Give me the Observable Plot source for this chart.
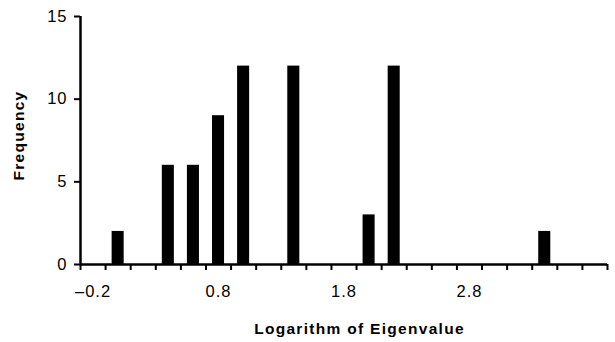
<!DOCTYPE html>
<html>
<head>
<meta charset="utf-8">
<script src="https://cdn.jsdelivr.net/npm/d3@7"></script>
<script src="https://cdn.jsdelivr.net/npm/@observablehq/plot@0.6"></script>
<style>
  html, body { margin: 0; padding: 0; background: #fff; }
  #chart svg { display: block; }
</style>
</head>
<body>
<div id="chart"></div>
<script>
// Bin centres (logarithm of eigenvalue) and their frequencies
const binCenters = [-0.2, 0.0, 0.2, 0.4, 0.6, 0.8, 1.0, 1.2, 1.4, 1.6, 1.8, 2.0, 2.2, 2.4, 2.6, 2.8, 3.0, 3.2, 3.4, 3.6, 3.8];
const frequencies = [0, 2, 0, 6, 6, 9, 12, 0, 12, 0, 0, 3, 12, 0, 0, 0, 0, 0, 2, 0, 0];
// Tick marks sit on the bin boundaries; labels on every fifth bin
const binEdges = [-0.3, -0.1, 0.1, 0.3, 0.5, 0.7, 0.9, 1.1, 1.3, 1.5, 1.7, 1.9, 2.1, 2.3, 2.5, 2.7, 2.9, 3.1, 3.3, 3.5, 3.7, 3.9];
const xTickLabels = [-0.2, 0.8, 1.8, 2.8];
const yTicks = [0, 5, 10, 15];
const xTitle = "Logarithm of Eigenvalue";
const yTitle = "Frequency";

const data = binCenters.map((c, i) => ({center: c, count: frequencies[i]}));
const halfBar = 0.048;
const fmt = d => (d < 0 ? "\u2013" + Math.abs(d).toFixed(1) : d.toFixed(1));
const font = "Liberation Sans, Arial, Helvetica, sans-serif";

const chart = Plot.plot({
  width: 615,
  height: 342,
  marginLeft: 80,
  marginRight: 8,
  marginTop: 16,
  marginBottom: 78,
  style: {fontFamily: font, fontSize: "16px", color: "#000", background: "#fff", overflow: "visible"},
  x: {domain: [-0.3, 3.9]},
  y: {domain: [0, 15]},
  marks: [
    Plot.rectY(data.filter(d => d.count > 0), {
      x1: d => d.center - halfBar,
      x2: d => d.center + halfBar,
      y: "count",
      fill: "#000"
    }),
    Plot.ruleX([-0.3], {y1: 0, y2: 15, stroke: "#000", strokeWidth: 2.5}),
    Plot.ruleY([0], {stroke: "#000", strokeWidth: 2.5}),
    Plot.axisY({ticks: yTicks, tickSize: 6, tickPadding: 7, strokeWidth: 2, label: null,
      tickFormat: d => String(d), fill: "#000", className: "ticklab"}),
    Plot.axisX({ticks: binEdges, tickSize: 6, strokeWidth: 2, tickFormat: () => "", label: null}),
    Plot.axisX({ticks: xTickLabels, tickSize: 0, tickPadding: 21, tickFormat: fmt, label: null,
      fill: "#000", className: "ticklab"}),
    Plot.text([xTitle], {frameAnchor: "bottom", textAnchor: "middle", dx: 15.5, dy: 65, lineAnchor: "middle",
      fontWeight: "bold", fill: "#000", className: "title"}),
    Plot.text([yTitle], {frameAnchor: "left", textAnchor: "middle", rotate: -90, dx: -61.5, dy: -5, lineAnchor: "middle",
      fontWeight: "bold", fill: "#000", className: "title"})
  ]
});

d3.select(chart).selectAll(".ticklab text")
  .style("font-size", "16.5px")
  .style("letter-spacing", "1px");
d3.select(chart).selectAll(".title text")
  .style("font-size", "15.5px")
  .style("letter-spacing", "1.3px");
document.getElementById("chart").appendChild(chart);
</script>
</body>
</html>
